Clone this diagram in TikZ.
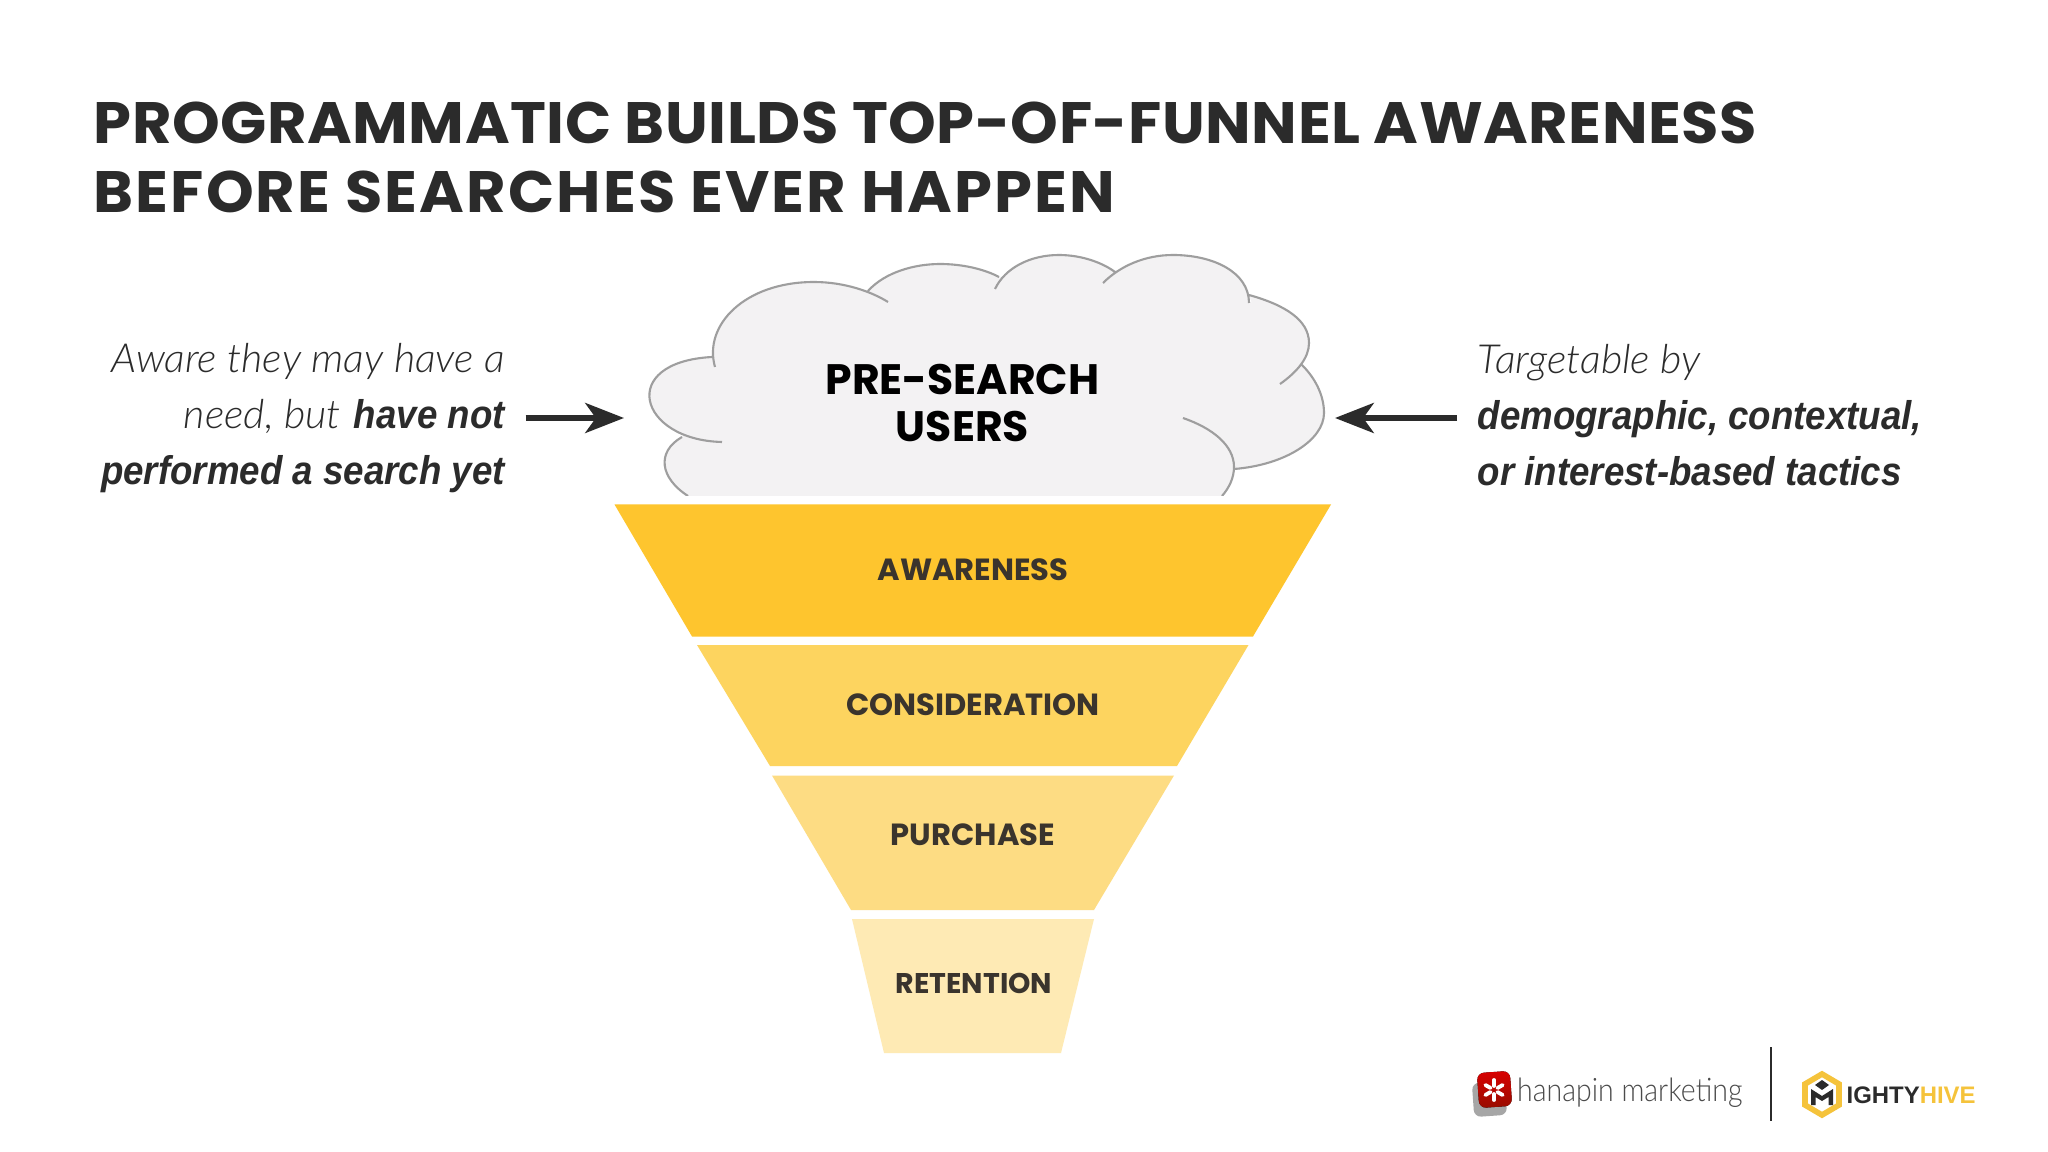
\documentclass[tikz,border=0pt]{standalone}
\usepackage{fontspec}
\usepackage{tikz}
\usetikzlibrary{arrows.meta}
\newfontfamily\headfont{Poppins}
\newfontfamily\notefont{Lato Light}[FakeStretch=1.03]
\newfontfamily\logofont{Lato Light}[FakeStretch=0.88]
\newfontfamily\noteboldfont{Liberation Sans}[FakeStretch=0.915]
\newfontfamily\hivefont{Liberation Sans}
\newcommand{\lightit}[1]{{\notefont\itshape #1}}
\newcommand{\boldit}[1]{{\noteboldfont\bfseries\itshape #1}}
\def\cloudlobes{
(688,496) .. controls (660,478) and (656,452) .. (682,437)
(722,442) .. controls (638,440) and (617,362) .. (712,357)
(715,367) .. controls (703,325) and (745,282) .. (814,282) .. controls (845,282) and (872,292) .. (888,302)
(868,291) .. controls (885,272) and (915,264) .. (940,264) .. controls (962,264) and (984,269) .. (999,277)
(995,289) .. controls (1005,268) and (1030,255) .. (1059,255) .. controls (1082,255) and (1103,263) .. (1115,272)
(1103,283) .. controls (1120,266) and (1145,255) .. (1173,255) .. controls (1213,255) and (1249,272) .. (1249,303)
(1249,295) .. controls (1285,305) and (1309,320) .. (1309,343) .. controls (1309,358) and (1297,372) .. (1280,384)
(1302,365) .. controls (1315,378) and (1324,395) .. (1324,413) .. controls (1324,440) and (1285,465) .. (1234,469)
(1183,418) .. controls (1212,428) and (1234,445) .. (1234,467) .. controls (1234,478) and (1229,488) .. (1222,496)
}
\definecolor{cloudgray}{HTML}{F3F2F3}
\definecolor{cloudline}{HTML}{9E9E9E}
\definecolor{inkdark}{HTML}{2B2B2B}
\definecolor{band1}{HTML}{FEC52E}
\definecolor{band2}{HTML}{FDD45F}
\definecolor{band3}{HTML}{FDDC83}
\definecolor{band4}{HTML}{FEEAB4}
\definecolor{hiveyellow}{HTML}{F5C33B}
\tikzset{
 title/.style={anchor=base west,inner sep=0,font=\headfont\bfseries\fontsize{16.6}{20}\selectfont,text=inkdark},
 bandlabel/.style={inner sep=0,font=\headfont\bfseries\fontsize{8.7}{10}\selectfont,text=inkdark!90!brown},
 note/.style={inner sep=0,text=inkdark,font=\fontsize{11.4}{16}\selectfont},
 pointer/.style={-{Stealth[length=11pt,width=8.5pt,inset=3pt]},line width=1.7pt,draw=inkdark}
}
\begin{document}
\begin{tikzpicture}[x=0.01cm,y=-0.01cm]
\useasboundingbox (0,0) rectangle (2048,1152);
\fill[white] (0,0) rectangle (2048,1152);

\node[title](t1) at(93,144){\addfontfeature{FakeStretch=1.04,LetterSpace=0.9}PROGRAMMATIC BUILDS TOP-OF-FUNNEL AWARENESS};
\node[title](t2) at(93,213){\addfontfeature{FakeStretch=1.04,LetterSpace=3.6}BEFORE SEARCHES EVER HAPPEN};

\begin{scope}
\clip (600,200) rectangle (1400,496);
\fill[cloudgray] \cloudlobes (688,496) -- (682,437) -- (712,357) -- (868,291) -- (999,277) -- (1112,270) -- (1249,300) -- (1302,365) -- (1234,469) -- (1222,496) -- cycle;
\draw[cloudline,line width=0.6pt] \cloudlobes;
\end{scope}
\node[align=center,inner sep=0,font=\headfont\bfseries\fontsize{12.1}{13.3}\selectfont,text=black](cloud) at(962.5,403){PRE-SEARCH\\USERS};

\node[note,align=right,anchor=east](left) at(505.5,418){\lightit{Aware they may have a}\\\lightit{need, but} \boldit{have not}\\\boldit{performed a search yet}};
\node[note,align=left,anchor=west](right) at(1477,415){\lightit{Targetable by}\\\boldit{demographic, contextual,}\\\boldit{or interest-based tactics}};
\coordinate(lefttip) at(624,418);
\coordinate(righttip) at(1335,418);
\draw[pointer](left.east |- lefttip) ++(20,0) coordinate(lefttail) -- (lefttip);
\draw[pointer](right.west |- righttip) ++(-20,0) coordinate(righttail) -- (righttip);

\fill[band1] (614.5,504.5) -- (1331,504.5) -- (1253,636.5) -- (692,636.5) -- cycle;
\fill[band2] (697,645) -- (1248.5,645) -- (1177,766) -- (770,766) -- cycle;
\fill[band3] (772,775.5) -- (1174,775.5) -- (1094,910) -- (851,910) -- cycle;
\fill[band4] (852,919) -- (1094,919) -- (1061,1053) -- (884,1053) -- cycle;
\node[bandlabel](b1) at(973,570){AWARENESS};
\node[bandlabel](b2) at(973,705){CONSIDERATION};
\node[bandlabel](b3) at(973,834.5){PURCHASE};
\node[bandlabel,font=\headfont\bfseries\fontsize{8.1}{10}\selectfont](b4) at(974,983){RETENTION};

\fill[gray!70,rounded corners=2pt,rotate around={4:(1489,1099)}] (1473,1082) rectangle (1506,1116);
\fill[top color=red!85!black,bottom color=red!55!black!90!orange,rounded corners=2pt,rotate around={4:(1494,1089)}] (1478,1072) rectangle (1511,1107);
\foreach \a in {30,90,...,330}
  \draw[white,line width=1.1pt,line cap=round] (1494,1090) ++(\a:4) -- ++(\a:6);
\node[anchor=base west,inner sep=0,font=\logofont\fontsize{9.2}{10}\selectfont,text=inkdark!85](hanapin) at(1516.5,1101){hanapin marketing};
\coordinate(d1) at(1771,1047);
\coordinate(d2) at(1771,1121);
\draw[inkdark,line width=0.6pt](d1)--(d2);

\draw[hiveyellow,line width=1.6pt] (1822,1074) -- (1839,1084) -- (1839,1105) -- (1822,1115) -- (1805,1105) -- (1805,1084) -- cycle;
\fill[inkdark] (1811,1105) -- (1811,1089) -- (1822,1096) -- (1833,1089) -- (1833,1105) -- (1828.5,1105) -- (1828.5,1097) -- (1822,1101) -- (1815.5,1097) -- (1815.5,1105) -- cycle;
\fill[inkdark] (1822,1080) -- (1829,1085) -- (1822,1090) -- (1815,1085) -- cycle;
\node[anchor=base west,inner sep=0,font=\hivefont\bfseries\fontsize{6.8}{9}\selectfont,text=inkdark](hive) at(1846,1103){IGHTY\textcolor{hiveyellow}{HIVE}};
\end{tikzpicture}
\end{document}
